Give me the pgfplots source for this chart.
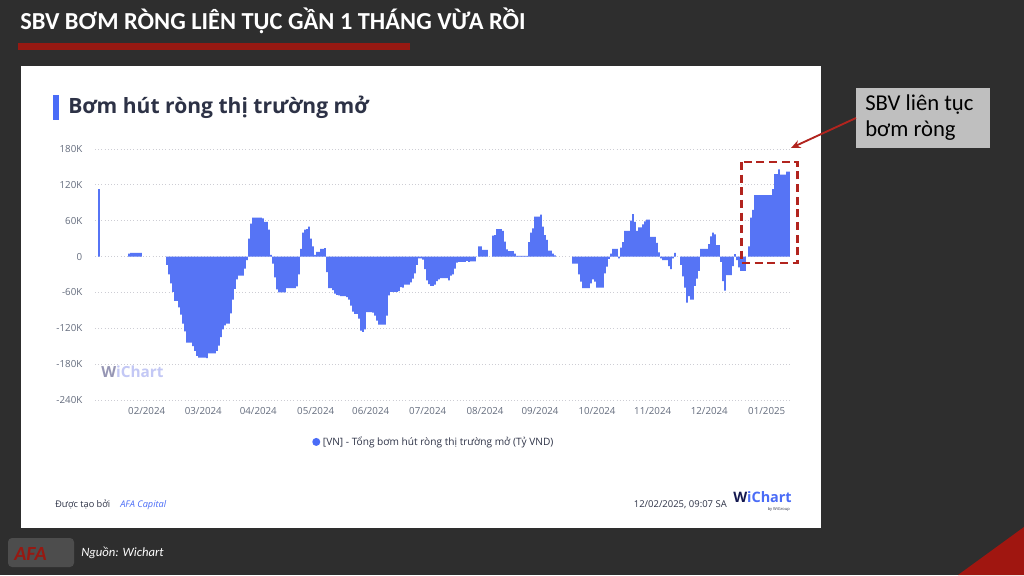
\documentclass[border=0pt]{standalone}
\usepackage{pgfplots}
\pgfplotsset{compat=1.18}
\usepackage{fontspec}
\setmainfont{Open Sans}
\newfontfamily\carl{Carlito}
\usetikzlibrary{arrows.meta}
\definecolor{bgdark}{RGB}{46,46,46}
\definecolor{titlered}{RGB}{150,25,18}
\definecolor{navytext}{RGB}{45,50,70}
\definecolor{tickgray}{RGB}{100,108,125}
\definecolor{gridgray}{RGB}{205,205,212}
\definecolor{barblue}{RGB}{86,116,245}
\definecolor{accentblue}{RGB}{74,108,247}
\definecolor{boxred}{RGB}{178,36,30}
\definecolor{annogray}{RGB}{191,191,191}
\definecolor{wmgray}{RGB}{150,150,180}
\definecolor{wmblue}{RGB}{195,200,245}
\definecolor{wcnavy}{RGB}{20,25,80}
\begin{document}
\begin{tikzpicture}
\useasboundingbox (0,0) rectangle (768pt,431.25pt);
\fill[bgdark] (0,0) rectangle (768pt,431.25pt);
\begin{scope}[shift={(0,431.25pt)}, x=0.75pt, y=-0.75pt]
  % slide title
  \node[anchor=base west, inner sep=0pt, text=white, font=\carl\bfseries\fontsize{18.3}{20}\selectfont] at (20,30) {SBV BƠM RÒNG LIÊN TỤC GẦN 1 THÁNG VỪA RỒI};
  \fill[titlered] (18,43) rectangle (410,50);
  % card
  \fill[white] (21,66) rectangle (821,528);
  \fill[accentblue] (53,95) rectangle (59,120);
  \node[anchor=base west, inner sep=0pt, text=navytext, font=\bfseries\fontsize{15.8}{18}\selectfont] at (68,114) {Bơm hút ròng thị trường mở};
  % watermark
  \node[anchor=west, inner sep=0pt, font=\bfseries\fontsize{11.5}{13}\selectfont] at (101,372) {\textcolor{wmgray}{W}\textcolor{wmblue}{iChart}};
  % footer
  \node[anchor=base west, inner sep=0pt, text=navytext, font=\fontsize{6.9}{8}\selectfont] at (55,507) {Được tạo bởi};
  \node[anchor=base west, inner sep=0pt, text=accentblue, font=\itshape\fontsize{6.9}{8}\selectfont] at (120,507) {AFA Capital};
  \node[anchor=base east, inner sep=0pt, text=navytext, font=\fontsize{7.1}{8}\selectfont] at (727,507) {12/02/2025, 09:07 SA};
  \node[anchor=base west, inner sep=0pt, font=\bfseries\fontsize{10.8}{13}\selectfont] at (733,502) {\textcolor{wcnavy}{W}\textcolor{accentblue}{iChart}};
  \node[anchor=base east, inner sep=0pt, text=navytext, font=\fontsize{3}{4}\selectfont] at (790,510) {by WiGroup};
  % bottom
  \fill[white, opacity=0.15, rounded corners=3] (8,538) rectangle (74,567);
  \node[anchor=base west, inner sep=0pt, text=titlered, font=\carl\bfseries\itshape\fontsize{15}{16}\selectfont] at (14,560) {AFA};
  \node[anchor=base west, inner sep=0pt, text=white, font=\carl\itshape\fontsize{9.5}{11}\selectfont] at (81,556) {Nguồn: Wichart};
  \fill[titlered!90!red] (958,575) -- (1024,575) -- (1024,527) -- cycle;
\end{scope}
\begin{axis}[
  at={(71.25pt,131.25pt)}, anchor=south west,
  scale only axis, width=521.25pt, height=188.25pt,
  xmin=95, xmax=790, ymin=-240, ymax=180,
  axis line style={draw=none},
  major tick length=0pt,
  ytick={-240,-180,-120,-60,0,60,120,180},
  yticklabels={-240K,-180K,-120K,-60K,0,60K,120K,180K},
  xtick={146.7,203.3,258.3,315.7,370.7,427.7,485,540,597,652.7,709.3,766.7},
  xticklabels={02/2024,03/2024,04/2024,05/2024,06/2024,07/2024,08/2024,09/2024,10/2024,11/2024,12/2024,01/2025},
  ticklabel style={font=\fontsize{7.3}{8}\selectfont, text=tickgray},
  yticklabel style={xshift=-6pt},
  xticklabel style={yshift=-2pt},
  ymajorgrids, grid style={gridgray, dotted, line width=0.6pt},
  ybar, bar width=1.15pt,
  legend style={at={(0.488,-0.167)}, anchor=center, draw=none, fill=none, font=\fontsize{7.6}{9}\selectfont, text=navytext},
  legend image code/.code={\fill[accentblue] (0.12cm,0cm) circle (3pt);},
]
\addplot[fill=barblue, draw=none] coordinates {
(99,113)
(129,5)(131,6)(133,6)(135,6)(137,6)(139,6)(141,6)
(167,-14)(169,-30)(171,-45)(173,-59)(175,-74)(177,-74)(179,-85)(181,-97)(183,-112)(185,-125)(187,-144)(189,-144)(191,-144)(193,-150)(195,-158)(197,-166)(199,-169)(201,-169)(203,-169)(205,-169)(207,-170)(209,-162)(211,-162)(213,-162)(215,-162)(217,-158)(219,-149)(221,-135)(223,-122)(225,-115)(227,-112)(229,-112)(231,-95)(233,-72)(235,-54)(237,-38)(239,-32)(241,-32)(243,-32)(245,-20)(247,-6)
(249,30)(251,55)(253,65)(255,65)(257,65)(259,65)(261,65)(263,64)(265,58)(267,58)(269,45)(271,3)
(273,-12)(275,-35)(277,-55)(279,-60)(281,-60)(283,-60)(285,-60)(287,-53)(289,-53)(291,-53)(293,-53)(295,-53)(297,-50)(299,-30)
(301,13)(303,40)(305,45)(307,46)(309,50)(311,30)(313,17)(315,3)(317,8)(319,8)(321,13)(323,13)(325,14)
(327,-26)(329,-53)(331,-53)(333,-56)(335,-62)(337,-64)(339,-65)(341,-66)(343,-66)(345,-66)(347,-68)(349,-72)(351,-82)(353,-92)(355,-96)(357,-96)(359,-104)(361,-124)(363,-126)(365,-122)(367,-93)(369,-93)(371,-93)(373,-94)(375,-99)(377,-107)(379,-114)(381,-114)(383,-114)(385,-114)(387,-99)(389,-65)(391,-59)(393,-59)(395,-59)(397,-59)(399,-58)(401,-51)(403,-52)(405,-47)(407,-47)(409,-47)(411,-43)(413,-37)(415,-28)(417,-14)(419,-3)(421,-3)(423,-5)(425,-21)(427,-40)(429,-46)(431,-49)(433,-49)(435,-47)(437,-41)(439,-38)(441,-36)(443,-36)(445,-36)(447,-36)(449,-40)(451,-32)(453,-30)(455,-20)(457,-10)(459,-9)(461,-9)(463,-9)(465,-9)(467,-7)(469,-9)(471,-8)(473,-8)(475,-8)
(479,17)(481,17)(483,11)(485,11)(487,11)
(493,35)(495,36)(497,46)(499,46)(501,46)(503,43)(505,25)(507,12)(509,9)(511,9)(513,9)(515,5)(517,1)(519,1)(521,1)(523,1)(525,1)(527,1)(529,24)(531,40)(533,47)(535,67)(537,67)(539,67)(541,70)(543,50)(545,36)(547,28)(549,10)(551,10)(553,5)(555,2)
(573,-12)(575,-12)(577,-12)(579,-30)(581,-42)(583,-53)(585,-53)(587,-53)(589,-53)(591,-45)(593,-38)(595,-42)(597,-52)(599,-52)(601,-52)(603,-52)(605,-28)(607,-17)(609,-4)
(611,5)(613,13)(615,13)(617,13)(619,-3)(621,15)(623,24)(625,43)(627,43)(629,43)(631,60)(633,71)(635,58)(637,43)(639,49)(641,49)(643,54)(645,59)(647,62)(649,62)(651,33)(653,33)(655,33)(657,23)(659,7)
(661,-3)(663,-6)(665,-6)(667,-6)(669,-16)(671,-21)(673,-3)(675,6)
(681,-14)(683,-33)(685,-52)(687,-77)(689,-66)(691,-72)(693,-72)(695,-49)(697,-37)(699,-24)
(701,13)(703,13)(705,13)(707,13)(709,21)(711,34)(713,40)(715,37)(717,19)(719,19)
(721,-9)(723,-41)(725,-57)(727,-31)(729,-31)(731,-31)(733,-16)(735,4)(737,-6)(739,-18)(741,-24)(743,-24)(745,-24)
(749,17)(751,65)(753,78)(755,103)(757,103)(759,103)(761,103)(763,103)(765,103)(767,103)(769,103)(771,103)(773,113)(775,138)(777,138)(779,146)(781,137)(783,137)(785,137)(787,142)(789,142)
};
\addlegendentry{[VN] - Tổng bơm hút ròng thị trường mở (Tỷ VND)}
\end{axis}
\begin{scope}[shift={(0,431.25pt)}, x=0.75pt, y=-0.75pt]
  \draw[boxred, line width=2.2pt, dash pattern=on 6pt off 3.5pt] (741.5,162) rectangle (797.5,263);
  \fill[annogray] (856,88) rectangle (990,148);
  \node[anchor=base west, inner sep=0pt, text=black, font=\carl\fontsize{17}{19}\selectfont] at (865,111) {SBV liên tục};
  \node[anchor=base west, inner sep=0pt, text=black, font=\carl\fontsize{17}{19}\selectfont] at (865,137) {bơm ròng};
  \draw[boxred, line width=1.4pt, -{Stealth[length=7pt,width=6pt]}] (856,118) -- (791,148);
\end{scope}
\end{tikzpicture}
\end{document}
